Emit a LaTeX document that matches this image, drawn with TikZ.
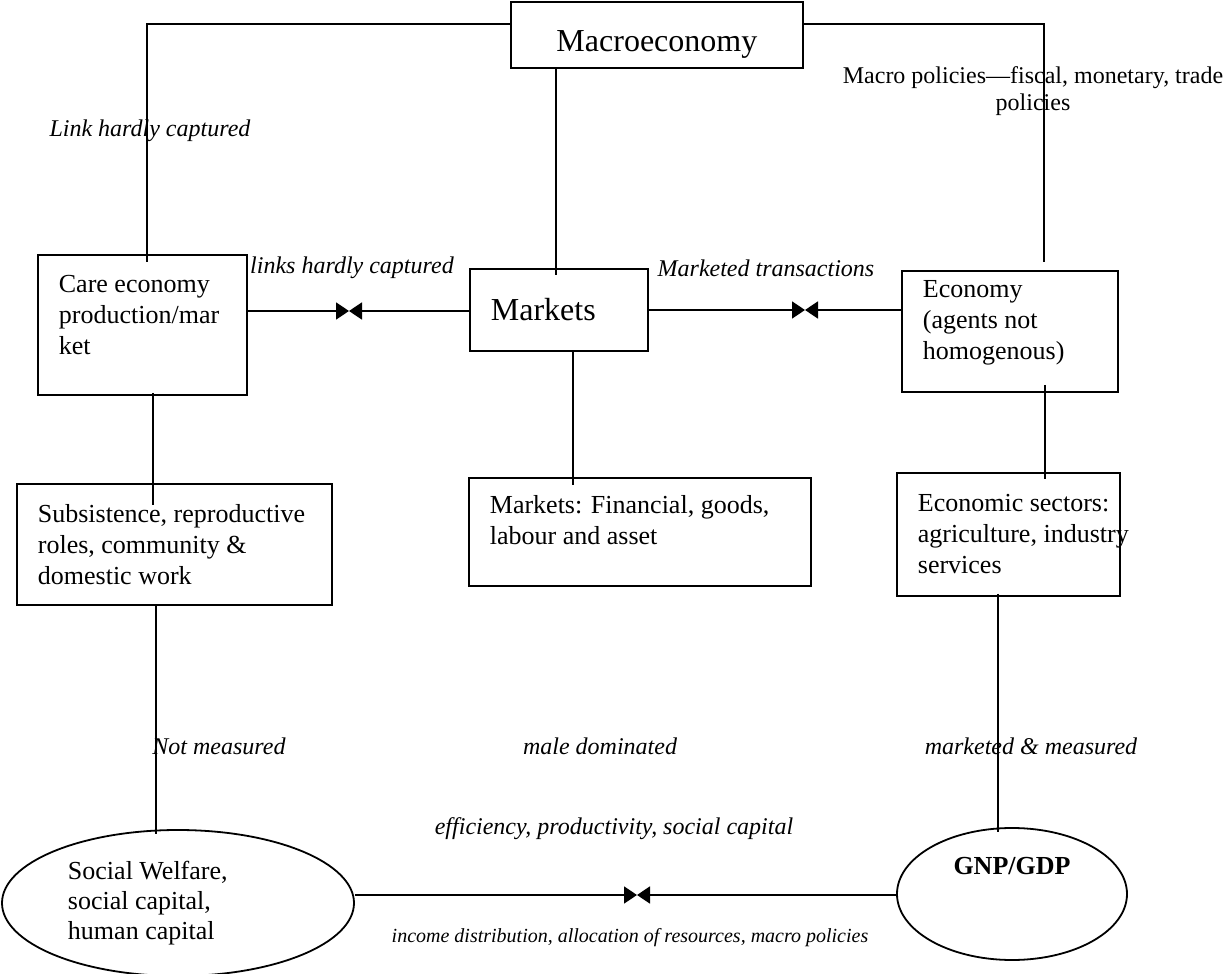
\documentclass[tikz,border=0pt]{standalone}
\usepackage{fontspec}
\setmainfont{Liberation Serif}
\usetikzlibrary{calc,shapes.geometric,arrows.meta}

\tikzset{
  box/.style={draw, line width=0.9pt, anchor=north west, align=flush left, inner xsep=10.5pt, inner ysep=3pt, font=\fontsize{13}{15.5}\selectfont},
  oval/.style={draw, ellipse, line width=0.9pt, inner sep=2pt, font=\fontsize{13}{15}\selectfont},
  note/.style={font=\fontsize{12}{13.5}\selectfont\itshape},
  link/.style={line width=0.9pt},
  tie/.style={line width=0.9pt, -{Triangle[length=6.5pt,width=8.5pt]}},
}

\begin{document}
\begin{tikzpicture}[x=0.5pt,y=-0.5pt]
\useasboundingbox (0,0) rectangle (1228,974);

\node[box, align=center, inner xsep=0pt, minimum width=146pt, minimum height=33pt, text height=20pt, text depth=3.5pt, font=\fontsize{16}{18}\selectfont] (macro) at (510,1) {Macroeconomy};
\node[box, text width=83.5pt, minimum height=70pt, text depth=41pt] (care) at (37,254) {Care economy\\ production/mar\\ ket};
\node[box, text width=68pt, minimum height=41pt, font=\fontsize{16}{18}\selectfont] (mkt) at (469,268) {Markets};
\node[box, text width=87pt, minimum height=60.5pt, text depth=42pt] (econ) at (901,270) {Economy\\ (agents not\\ homogenous)};
\node[box, text width=136.5pt, minimum height=60.5pt] (subs) at (16,483) {Subsistence, reproductive\\ roles, community \&\\ domestic work};
\node[box, text width=150pt, minimum height=54pt, text depth=27pt] (fin) at (468,477) {Markets: Financial, goods,\\ labour and asset};
\node[box, text width=90.5pt, minimum height=61.5pt] (sectors) at (896,472) {\mbox{Economic sectors:}\\ \mbox{agriculture, industry}\\ services};
\node[oval, text width=110pt, align=flush left, minimum width=176pt, minimum height=73pt] (welfare) at (178,903) {Social Welfare,\\ social capital,\\ human capital};
\node[oval, minimum width=115pt, minimum height=66pt, text depth=28pt, font=\fontsize{13}{15}\selectfont\bfseries] (gnp) at (1012,894) {GNP/GDP};

\node[note] (lhc) at (150,131) {Link hardly captured};
\node[note] (links) at (352,268) {links hardly captured};
\node[note] (trans) at (766,268) {Marketed transactions};
\node[note, font=\fontsize{12}{13.5}\selectfont, align=center] (policies) at (1033,91) {Macro policies—fiscal, monetary, trade\\ policies};
\node[note] (notm) at (219,746) {Not measured};
\node[note] (male) at (600,746) {male dominated};
\node[note] (mm) at (1031,746) {marketed \& measured};
\node[note] (eff) at (614,829) {efficiency, productivity, social capital};
\node[note, font=\fontsize{10}{12}\selectfont\itshape] (inc) at (630,938) {income distribution, allocation of resources, macro policies};

\coordinate (tieL) at (349,311);
\coordinate (tieR) at (805,310);
\coordinate (tieB) at (637,895);

\draw[link] ($(macro.west)+(0,-11)$) -| ($(care.north)+(4.5,8)$);
\draw[link] ($(macro.east)+(0,-11)$) -| ($(econ.north)+(34,-8)$);
\draw[link] ($(macro.south)+(-101,0)$) -- ($(mkt.north)+(-3,7)$);
\draw[link] ($(mkt.south)+(14,0)$) -- ($(mkt.south |- fin.north)+(14,8)$);
\draw[link] ($(care.south)+(10.5,-3)$) -- ($(care.south |- subs.north)+(10.5,22)$);
\draw[link] ($(econ.south)+(35,-8)$) -- ($(econ.south |- sectors.north)+(35,7)$);
\draw[link] ($(subs.south)+(-18.5,0)$) -- ($(subs.south |- welfare.north)+(-18.5,5)$);
\draw[link] ($(sectors.south)+(-10.5,-3)$) -- ($(sectors.south |- gnp.north)+(-10.5,5)$);

\draw[tie] (care.east |- tieL) -- (tieL);
\draw[tie] (mkt.west |- tieL) -- (tieL);
\draw[tie] (mkt.east |- tieR) -- (tieR);
\draw[tie] (econ.west |- tieR) -- (tieR);
\draw[tie] (welfare.east |- tieB) -- (tieB);
\draw[tie] (gnp.west |- tieB) -- (tieB);
\end{tikzpicture}
\end{document}
